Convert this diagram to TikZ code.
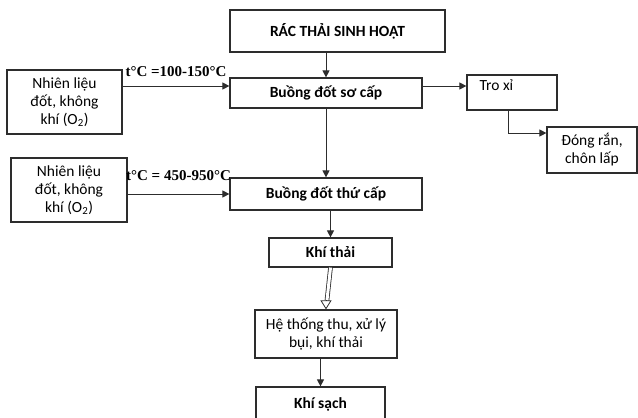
\documentclass[tikz,border=0pt]{standalone}
\usepackage{fontspec}
\setmainfont{Carlito}
\newfontfamily\tempfont{Liberation Serif}
\usepackage{tikz}
\usetikzlibrary{arrows.meta,positioning,calc}
\definecolor{linegray}{RGB}{45,45,45}

\begin{document}
\begin{tikzpicture}[
  x=1pt, y=-1pt,
  >={Triangle[length=7pt,width=7pt]},
  every node/.style={font=\fontsize{15.5}{18}\selectfont},
  box/.style={draw=linegray, line width=1.2pt, align=center, inner sep=2pt},
  bold/.style={font=\bfseries\fontsize{15.5}{18}\selectfont},
  temp/.style={font=\tempfont\bfseries\fontsize{15}{16}\selectfont, inner sep=1pt},
  arr/.style={->, draw=linegray, line width=1pt},
  twin/.style={draw=linegray, line width=0.8pt, double, double distance=3pt},
  hollow/.style={-{Triangle[open,length=9pt,width=11pt]}, draw=linegray, line width=0.8pt}
]
\useasboundingbox (0,0) rectangle (638,418);

%--------------------------------------------------
% main line: waste -> chambers -> gas
%--------------------------------------------------
\node[box, bold, minimum width=215pt, minimum height=42pt] (rac) at (337.5,31) {RÁC THẢI SINH HOẠT};
\node[box, bold, minimum width=192pt, minimum height=30pt] (socap) at (326,93) {Buồng đốt sơ cấp};
\node[box, bold, minimum width=192pt, minimum height=32pt] (thucap) at (326,194) {Buồng đốt thứ cấp};
\node[box, bold, minimum width=123pt, minimum height=29pt] (khithai) at (330.5,252.5) {Khí thải};
\node[box, minimum width=142pt, minimum height=48pt] (hethong) at (326,334) {Hệ thống thu, xử lý\\bụi, khí thải};
\node[box, bold, minimum width=129pt, minimum height=34pt] (khisach) at (320.5,404) {Khí sạch};

%--------------------------------------------------
% left: fuel and air inputs
%--------------------------------------------------
\node[box, minimum width=115pt, minimum height=64pt] (nl1) at (64.5,102) {Nhiên liệu\\đốt, không\\khí (O\textsubscript{2})};
\node[box, minimum width=116pt, minimum height=64pt] (nl2) at (69,190) {Nhiên liệu\\đốt, không\\khí (O\textsubscript{2})};

%--------------------------------------------------
% right: ash
%--------------------------------------------------
\node[box, minimum width=90pt, minimum height=35pt,
      label={[anchor=north west, inner sep=0pt, xshift=13pt, yshift=-5pt]north west:Tro xỉ}] (troxi) at (512,92.5) {};
\node[box, minimum width=90pt, minimum height=46pt] (dongran) at (592,150) {Đóng rắn,\\chôn lấp};

%--------------------------------------------------
% arrows
%--------------------------------------------------
\draw[arr] (rac.south -| socap.north) -- (socap.north);
\draw[arr] (socap.south) -- (thucap.north);
\draw[arr] (thucap.south -| khithai.north) -- (khithai.north);
\draw[twin, shorten >=9pt] (khithai.south) -- (hethong.north);
\draw[hollow] ([yshift=9pt]hethong.north) -- (hethong.north);
\draw[arr] (hethong.south -| khisach.north) -- (khisach.north);

\draw[arr] ([yshift=16pt]nl1.east) -- ([yshift=16pt]nl1.east -| socap.west)
  node[midway, above=8pt, temp] (t1) {t°C =100-150°C};
\draw[arr] (thucap.west -| nl2.east) -- (thucap.west)
  node[midway, above=12pt, temp] (t2) {t°C = 450-950°C};

\draw[arr] ([yshift=7pt]socap.east) -- ([yshift=7pt]socap.east -| troxi.west);
\draw[arr] ([xshift=-4pt]troxi.south) |- ([yshift=17pt]dongran.west);

\end{tikzpicture}
\end{document}
